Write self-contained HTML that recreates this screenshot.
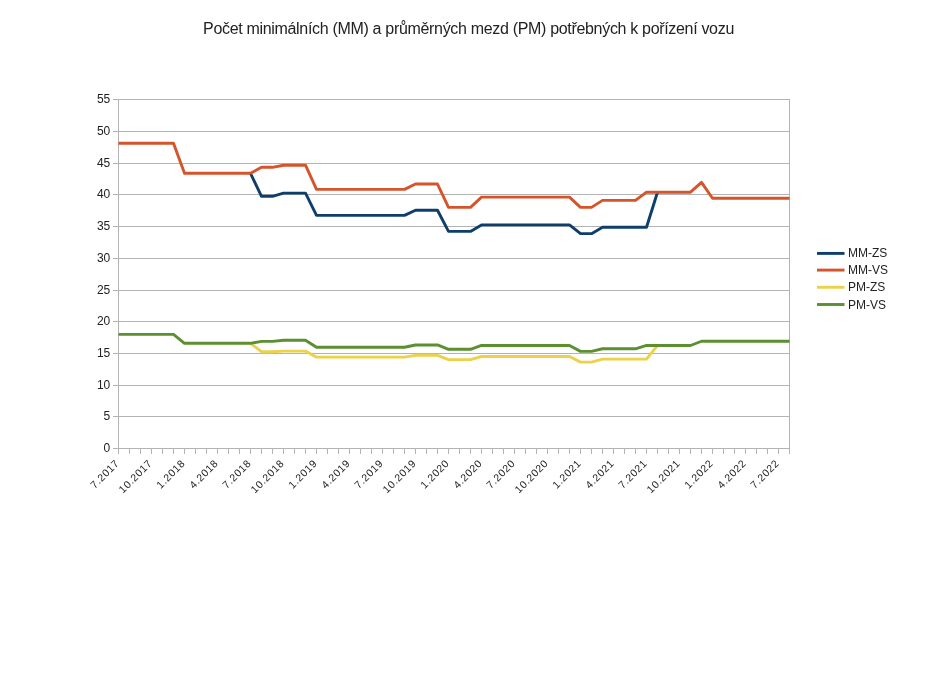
<!DOCTYPE html>
<html><head><meta charset="utf-8"><style>
html,body{margin:0;padding:0;background:#fff;}
body{width:936px;height:680px;overflow:hidden;}
svg{display:block;will-change:transform;}
text{font-family:"Liberation Sans",sans-serif;fill:#222222;}
</style></head><body>
<svg width="936" height="680" viewBox="0 0 936 680">
<rect width="936" height="680" fill="#ffffff"/>
<text x="468.5" y="33.9" font-size="16" letter-spacing="-0.32" text-anchor="middle">Počet minimálních (MM) a průměrných mezd (PM) potřebných k pořízení vozu</text>
<g stroke="#b3b3b3" stroke-width="1" fill="none">
<line x1="113" y1="448.50" x2="790.00" y2="448.50"/>
<line x1="113" y1="416.50" x2="790.00" y2="416.50"/>
<line x1="113" y1="385.50" x2="790.00" y2="385.50"/>
<line x1="113" y1="353.50" x2="790.00" y2="353.50"/>
<line x1="113" y1="321.50" x2="790.00" y2="321.50"/>
<line x1="113" y1="290.50" x2="790.00" y2="290.50"/>
<line x1="113" y1="258.50" x2="790.00" y2="258.50"/>
<line x1="113" y1="226.50" x2="790.00" y2="226.50"/>
<line x1="113" y1="194.50" x2="790.00" y2="194.50"/>
<line x1="113" y1="163.50" x2="790.00" y2="163.50"/>
<line x1="113" y1="131.50" x2="790.00" y2="131.50"/>
<line x1="113" y1="99.50" x2="790.00" y2="99.50"/>
<line x1="118.5" y1="99" x2="118.5" y2="454"/>
<line x1="789.5" y1="99" x2="789.5" y2="454"/>
<line x1="129.5" y1="449" x2="129.5" y2="454"/>
<line x1="140.5" y1="449" x2="140.5" y2="454"/>
<line x1="151.5" y1="449" x2="151.5" y2="454"/>
<line x1="162.5" y1="449" x2="162.5" y2="454"/>
<line x1="173.5" y1="449" x2="173.5" y2="454"/>
<line x1="184.5" y1="449" x2="184.5" y2="454"/>
<line x1="195.5" y1="449" x2="195.5" y2="454"/>
<line x1="206.5" y1="449" x2="206.5" y2="454"/>
<line x1="217.5" y1="449" x2="217.5" y2="454"/>
<line x1="228.5" y1="449" x2="228.5" y2="454"/>
<line x1="239.5" y1="449" x2="239.5" y2="454"/>
<line x1="250.5" y1="449" x2="250.5" y2="454"/>
<line x1="261.5" y1="449" x2="261.5" y2="454"/>
<line x1="272.5" y1="449" x2="272.5" y2="454"/>
<line x1="283.5" y1="449" x2="283.5" y2="454"/>
<line x1="294.5" y1="449" x2="294.5" y2="454"/>
<line x1="305.5" y1="449" x2="305.5" y2="454"/>
<line x1="316.5" y1="449" x2="316.5" y2="454"/>
<line x1="327.5" y1="449" x2="327.5" y2="454"/>
<line x1="338.5" y1="449" x2="338.5" y2="454"/>
<line x1="349.5" y1="449" x2="349.5" y2="454"/>
<line x1="360.5" y1="449" x2="360.5" y2="454"/>
<line x1="371.5" y1="449" x2="371.5" y2="454"/>
<line x1="382.5" y1="449" x2="382.5" y2="454"/>
<line x1="393.5" y1="449" x2="393.5" y2="454"/>
<line x1="404.5" y1="449" x2="404.5" y2="454"/>
<line x1="415.5" y1="449" x2="415.5" y2="454"/>
<line x1="426.5" y1="449" x2="426.5" y2="454"/>
<line x1="437.5" y1="449" x2="437.5" y2="454"/>
<line x1="448.5" y1="449" x2="448.5" y2="454"/>
<line x1="459.5" y1="449" x2="459.5" y2="454"/>
<line x1="470.5" y1="449" x2="470.5" y2="454"/>
<line x1="481.5" y1="449" x2="481.5" y2="454"/>
<line x1="492.5" y1="449" x2="492.5" y2="454"/>
<line x1="503.5" y1="449" x2="503.5" y2="454"/>
<line x1="514.5" y1="449" x2="514.5" y2="454"/>
<line x1="525.5" y1="449" x2="525.5" y2="454"/>
<line x1="536.5" y1="449" x2="536.5" y2="454"/>
<line x1="547.5" y1="449" x2="547.5" y2="454"/>
<line x1="558.5" y1="449" x2="558.5" y2="454"/>
<line x1="569.5" y1="449" x2="569.5" y2="454"/>
<line x1="580.5" y1="449" x2="580.5" y2="454"/>
<line x1="591.5" y1="449" x2="591.5" y2="454"/>
<line x1="602.5" y1="449" x2="602.5" y2="454"/>
<line x1="613.5" y1="449" x2="613.5" y2="454"/>
<line x1="624.5" y1="449" x2="624.5" y2="454"/>
<line x1="635.5" y1="449" x2="635.5" y2="454"/>
<line x1="646.5" y1="449" x2="646.5" y2="454"/>
<line x1="657.5" y1="449" x2="657.5" y2="454"/>
<line x1="668.5" y1="449" x2="668.5" y2="454"/>
<line x1="679.5" y1="449" x2="679.5" y2="454"/>
<line x1="690.5" y1="449" x2="690.5" y2="454"/>
<line x1="701.5" y1="449" x2="701.5" y2="454"/>
<line x1="712.5" y1="449" x2="712.5" y2="454"/>
<line x1="723.5" y1="449" x2="723.5" y2="454"/>
<line x1="734.5" y1="449" x2="734.5" y2="454"/>
<line x1="745.5" y1="449" x2="745.5" y2="454"/>
<line x1="756.5" y1="449" x2="756.5" y2="454"/>
<line x1="767.5" y1="449" x2="767.5" y2="454"/>
<line x1="778.5" y1="449" x2="778.5" y2="454"/>
</g>
<g font-size="12" text-anchor="end">
<text x="110.3" y="451.90">0</text>
<text x="110.3" y="419.90">5</text>
<text x="110.3" y="388.90">10</text>
<text x="110.3" y="356.90">15</text>
<text x="110.3" y="324.90">20</text>
<text x="110.3" y="293.90">25</text>
<text x="110.3" y="261.90">30</text>
<text x="110.3" y="229.90">35</text>
<text x="110.3" y="197.90">40</text>
<text x="110.3" y="166.90">45</text>
<text x="110.3" y="134.90">50</text>
<text x="110.3" y="102.90">55</text>
</g>
<g font-size="10.5" letter-spacing="0.6" text-anchor="end">
<text transform="translate(119.92,463.92) rotate(-45)">7.2017</text>
<text transform="translate(152.92,463.92) rotate(-45)">10.2017</text>
<text transform="translate(185.92,463.92) rotate(-45)">1.2018</text>
<text transform="translate(218.92,463.92) rotate(-45)">4.2018</text>
<text transform="translate(251.92,463.92) rotate(-45)">7.2018</text>
<text transform="translate(284.92,463.92) rotate(-45)">10.2018</text>
<text transform="translate(317.92,463.92) rotate(-45)">1.2019</text>
<text transform="translate(350.92,463.92) rotate(-45)">4.2019</text>
<text transform="translate(383.92,463.92) rotate(-45)">7.2019</text>
<text transform="translate(416.92,463.92) rotate(-45)">10.2019</text>
<text transform="translate(449.92,463.92) rotate(-45)">1.2020</text>
<text transform="translate(482.92,463.92) rotate(-45)">4.2020</text>
<text transform="translate(515.92,463.92) rotate(-45)">7.2020</text>
<text transform="translate(548.92,463.92) rotate(-45)">10.2020</text>
<text transform="translate(581.92,463.92) rotate(-45)">1.2021</text>
<text transform="translate(614.92,463.92) rotate(-45)">4.2021</text>
<text transform="translate(647.92,463.92) rotate(-45)">7.2021</text>
<text transform="translate(680.92,463.92) rotate(-45)">10.2021</text>
<text transform="translate(713.92,463.92) rotate(-45)">1.2022</text>
<text transform="translate(746.92,463.92) rotate(-45)">4.2022</text>
<text transform="translate(779.92,463.92) rotate(-45)">7.2022</text>
</g>
<g fill="none" stroke-width="2.9" stroke-linejoin="round" stroke-linecap="butt">
<polyline stroke="#0f3e6c" points="250.50,173.28 261.50,196.32 272.50,196.32 283.50,193.15 294.50,193.15 305.50,193.15 316.50,215.37 327.50,215.37 338.50,215.37 349.50,215.37 360.50,215.37 371.50,215.37 382.50,215.37 393.50,215.37 404.50,215.37 415.50,210.29 426.50,210.29 437.50,210.29 448.50,231.42 459.50,231.42 470.50,231.42 481.50,224.89 492.50,224.89 503.50,224.89 514.50,224.89 525.50,224.89 536.50,224.89 547.50,224.89 558.50,224.89 569.50,224.89 580.50,233.64 591.50,233.64 602.50,227.30 613.50,227.30 624.50,227.30 635.50,227.30 646.50,227.30 657.50,192.20"/>
<polyline stroke="#d6542c" points="118.50,143.20 129.50,143.20 140.50,143.20 151.50,143.20 162.50,143.20 173.50,143.20 184.50,173.28 195.50,173.28 206.50,173.28 217.50,173.28 228.50,173.28 239.50,173.28 250.50,173.28 261.50,167.32 272.50,167.32 283.50,165.22 294.50,165.22 305.50,165.22 316.50,189.34 327.50,189.34 338.50,189.34 349.50,189.34 360.50,189.34 371.50,189.34 382.50,189.34 393.50,189.34 404.50,189.34 415.50,184.01 426.50,184.01 437.50,184.01 448.50,207.37 459.50,207.37 470.50,207.37 481.50,197.09 492.50,197.09 503.50,197.09 514.50,197.09 525.50,197.09 536.50,197.09 547.50,197.09 558.50,197.09 569.50,197.09 580.50,207.37 591.50,207.37 602.50,200.39 613.50,200.39 624.50,200.39 635.50,200.39 646.50,192.20 657.50,192.20 668.50,192.20 679.50,192.20 690.50,192.20 701.50,182.36 712.50,198.23 723.50,198.23 734.50,198.23 745.50,198.23 756.50,198.23 767.50,198.23 778.50,198.23 789.50,198.23"/>
<polyline stroke="#ecd24a" points="250.50,343.32 261.50,351.70 272.50,351.70 283.50,351.13 294.50,351.13 305.50,351.13 316.50,357.16 327.50,357.16 338.50,357.16 349.50,357.16 360.50,357.16 371.50,357.16 382.50,357.16 393.50,357.16 404.50,357.16 415.50,355.32 426.50,355.32 437.50,355.32 448.50,359.63 459.50,359.63 470.50,359.63 481.50,356.52 492.50,356.52 503.50,356.52 514.50,356.52 525.50,356.52 536.50,356.52 547.50,356.52 558.50,356.52 569.50,356.52 580.50,362.11 591.50,362.11 602.50,359.12 613.50,359.12 624.50,359.12 635.50,359.12 646.50,359.12 657.50,345.48"/>
<polyline stroke="#5b8f30" points="118.50,334.37 129.50,334.37 140.50,334.37 151.50,334.37 162.50,334.37 173.50,334.37 184.50,343.32 195.50,343.32 206.50,343.32 217.50,343.32 228.50,343.32 239.50,343.32 250.50,343.32 261.50,341.35 272.50,341.35 283.50,340.21 294.50,340.21 305.50,340.21 316.50,347.26 327.50,347.26 338.50,347.26 349.50,347.26 360.50,347.26 371.50,347.26 382.50,347.26 393.50,347.26 404.50,347.26 415.50,344.97 426.50,344.97 437.50,344.97 448.50,349.29 459.50,349.29 470.50,349.29 481.50,345.48 492.50,345.48 503.50,345.48 514.50,345.48 525.50,345.48 536.50,345.48 547.50,345.48 558.50,345.48 569.50,345.48 580.50,351.38 591.50,351.38 602.50,348.78 613.50,348.78 624.50,348.78 635.50,348.78 646.50,345.48 657.50,345.48 668.50,345.48 679.50,345.48 690.50,345.48 701.50,341.23 712.50,341.23 723.50,341.23 734.50,341.23 745.50,341.23 756.50,341.23 767.50,341.23 778.50,341.23 789.50,341.23"/>
</g>
<g font-size="12">
<line x1="817" y1="253.4" x2="844.5" y2="253.4" stroke="#0f3e6c" stroke-width="2.9"/>
<text x="848" y="257.40">MM-ZS</text>
<line x1="817" y1="270.1" x2="844.5" y2="270.1" stroke="#d6542c" stroke-width="2.9"/>
<text x="848" y="274.10">MM-VS</text>
<line x1="817" y1="287.3" x2="844.5" y2="287.3" stroke="#ecd24a" stroke-width="2.9"/>
<text x="848" y="291.30">PM-ZS</text>
<line x1="817" y1="304.5" x2="844.5" y2="304.5" stroke="#5b8f30" stroke-width="2.9"/>
<text x="848" y="308.50">PM-VS</text>
</g>
</svg>
</body></html>
